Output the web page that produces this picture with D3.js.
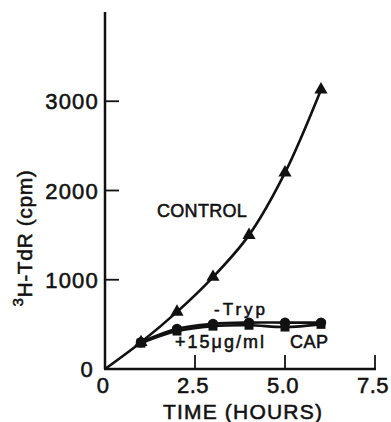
<!DOCTYPE html>
<html>
<head>
<meta charset="utf-8">
<script src="https://cdn.jsdelivr.net/npm/d3@7"></script>
<style>
  html, body { margin: 0; padding: 0; background: #fff; }
  svg { display: block; }
  text { font-family: "Liberation Sans", Arial, sans-serif; fill: #111; stroke: #111; stroke-width: 0.55px; }
</style>
</head>
<body>
<svg id="chart" width="391" height="422"></svg>
<script>
// Incorporation of 3H-thymidine over time (hours, cpm)
const hours        = [0, 1, 2, 3, 4, 5, 6];
const controlCpm   = [0, 300, 640, 1030, 1500, 2200, 3130];
const trypHours    = [1, 2, 3, 4, 5, 6];
const trypCpm      = [300, 450, 505, 520, 520, 520];
const capHours     = [1, 2, 3, 4, 5, 6];
const capCpm       = [290, 425, 480, 490, 470, 500];
const xTicks       = [0, 2.5, 5.0, 7.5];
const xTickLabels  = ["0", "2.5", "5.0", "7.5"];
const yTicks       = [0, 1000, 2000, 3000];
const yTickLabels  = ["0", "1000", "2000", "3000"];

const svg = d3.select("#chart");
const x = d3.scaleLinear().domain([0, 7.5]).range([105, 375]);
const y = d3.scaleLinear().domain([0, 4000]).range([369, 12]);
const ink = "#111";

// axes
svg.append("line").attr("x1", x(0)).attr("x2", x(0)).attr("y1", y(0)).attr("y2", y(4000))
  .attr("stroke", ink).attr("stroke-width", 2.5);
svg.append("line").attr("x1", x(0) - 1).attr("x2", x(7.5) + 1).attr("y1", y(0)).attr("y2", y(0))
  .attr("stroke", ink).attr("stroke-width", 2.5);

// y ticks point inward
svg.selectAll(".ytick").data(yTicks.filter(d => d > 0)).enter().append("line")
  .attr("x1", x(0)).attr("x2", x(0) + 14).attr("y1", d => y(d)).attr("y2", d => y(d))
  .attr("stroke", ink).attr("stroke-width", 1.8);
svg.selectAll(".ylab").data(yTicks).enter().append("text")
  .attr("x", (d, i) => i === 0 ? x(0) - 11 : x(0) - 6)
  .attr("y", d => y(d) + 8)
  .attr("text-anchor", "end")
  .attr("font-size", 22).attr("letter-spacing", 1.2)
  .text((d, i) => yTickLabels[i]);

// x ticks point upward
svg.selectAll(".xtick").data(xTicks.filter(d => d > 0)).enter().append("line")
  .attr("x1", d => x(d)).attr("x2", d => x(d)).attr("y1", y(0)).attr("y2", y(0) - 14)
  .attr("stroke", ink).attr("stroke-width", 1.8);
svg.selectAll(".xlab").data(xTicks).enter().append("text")
  .attr("x", d => x(d) - 2).attr("y", y(0) + 24)
  .attr("text-anchor", "middle")
  .attr("font-size", 22).attr("letter-spacing", 0.5)
  .text((d, i) => xTickLabels[i]);

// axis titles
svg.append("text").attr("x", 243).attr("y", 419).attr("text-anchor", "middle")
  .attr("font-size", 21).attr("letter-spacing", 1.2).text("TIME (HOURS)");
const yt = svg.append("text").attr("transform", "translate(32,238) rotate(-90)")
  .attr("text-anchor", "middle").attr("font-size", 21).attr("letter-spacing", 0.6);
yt.append("tspan").attr("font-size", 15).attr("dy", -9).text("3");
yt.append("tspan").attr("dy", 9).text("H-TdR (cpm)");

// series lines
const line = d3.line().x(d => x(d[0])).y(d => y(d[1])).curve(d3.curveCatmullRom.alpha(0.5));
const series = [
  d3.zip(hours, controlCpm),
  d3.zip(trypHours, trypCpm),
  d3.zip(capHours, capCpm)
];
svg.selectAll(".series").data(series).enter().append("path")
  .attr("d", line).attr("fill", "none").attr("stroke", ink).attr("stroke-width", 2.6)
  .attr("stroke-linejoin", "round");

// markers
const sym = (type, size) => d3.symbol().type(type).size(size)();
svg.selectAll(".cap").data(d3.zip(capHours, capCpm)).enter().append("path")
  .attr("transform", d => `translate(${x(d[0])},${y(d[1])})`)
  .attr("d", sym(d3.symbolSquare, 80)).attr("fill", ink);
svg.selectAll(".tryp").data(d3.zip(trypHours, trypCpm)).enter().append("path")
  .attr("transform", d => `translate(${x(d[0])},${y(d[1])})`)
  .attr("d", sym(d3.symbolCircle, 85)).attr("fill", ink);
svg.selectAll(".ctrl").data(d3.zip(hours, controlCpm).filter(d => d[0] > 0)).enter().append("path")
  .attr("transform", d => `translate(${x(d[0])},${y(d[1])})`)
  .attr("d", sym(d3.symbolTriangle, 75)).attr("fill", ink);

// series labels
svg.append("text").attr("x", 157).attr("y", 217).attr("font-size", 18).attr("letter-spacing", 0.3).text("CONTROL");
svg.append("text").attr("x", 214).attr("y", 315).attr("font-size", 17).attr("letter-spacing", 3).text("-Tryp");
svg.append("text").attr("x", 175).attr("y", 348).attr("font-size", 18).attr("letter-spacing", 2).text("+15\u03bcg/ml");
svg.append("text").attr("x", 290).attr("y", 348).attr("font-size", 18).attr("letter-spacing", 0.5).text("CAP");
</script>
</body>
</html>
